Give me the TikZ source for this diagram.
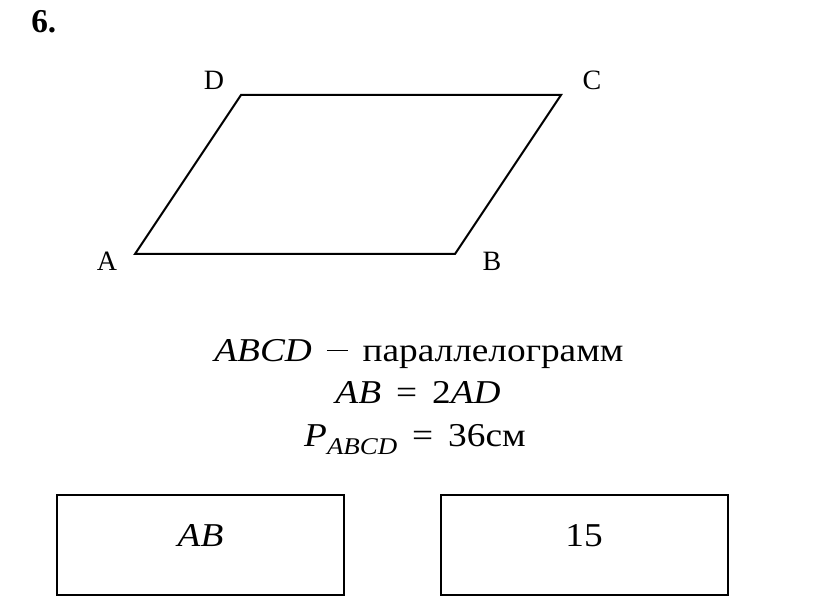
\documentclass[tikz,border=0pt]{standalone}
\usepackage{fontspec}
\setmainfont{Liberation Serif}
\newfontfamily\eqfont{Liberation Serif}[FakeStretch=1.12]
\newcommand{\eqsp}{\hspace{0.45em}}
\newcommand{\longminus}{\rule[0.32em]{0.62em}{1.3pt}}
\begin{document}
\begin{tikzpicture}[x=0.75pt,y=-0.75pt,
  lbl/.style={font=\fontsize{21}{24}\selectfont, inner sep=0pt},
  eq/.style={font=\eqfont\fontsize{25}{28}\selectfont, inner sep=0pt, anchor=base},
  answerbox/.style={draw, line width=1.5pt, minimum width=287*0.75pt, minimum height=100*0.75pt, inner sep=0pt},
  boxtext/.style={font=\eqfont\fontsize{25}{28}\selectfont, inner sep=0pt, anchor=base},
  edge/.style={line width=1.5pt, line join=miter}]
\useasboundingbox (0,0) rectangle (814,616);
\node[font=\bfseries\fontsize{25}{28}\selectfont, anchor=base west, inner sep=0pt] (num) at (31,33) {6.};
\coordinate (A) at (135,254);
\coordinate (B) at (455,254);
\coordinate (C) at (561,95);
\coordinate (D) at (241,95);
\draw[edge] (A) -- (B) -- (C) -- (D) -- cycle;
\node[lbl] (lD) at (214,80) {D};
\node[lbl] (lC) at (592,80) {C};
\node[lbl] (lA) at (107,261) {A};
\node[lbl] (lB) at (492,261) {B};
\node[eq] (t1) at (419,362) {\textit{ABCD}\eqsp\longminus\eqsp параллелограмм};
\node[eq] (t2) at (418,404) {\textit{AB}\eqsp=\eqsp2\textit{AD}};
\node[eq] (t3) at (415,446) {\textit{P}\raisebox{-0.25em}{\fontsize{18}{20}\selectfont\textit{ABCD}}\eqsp=\eqsp36см};
\node[answerbox] (b1) at (200.5,545) {};
\node[answerbox] (b2) at (584,545) {};
\node[boxtext] (b1t) at (200.5,546) {\textit{AB}};
\node[boxtext] (b2t) at (584,546) {15};
\end{tikzpicture}
\end{document}
